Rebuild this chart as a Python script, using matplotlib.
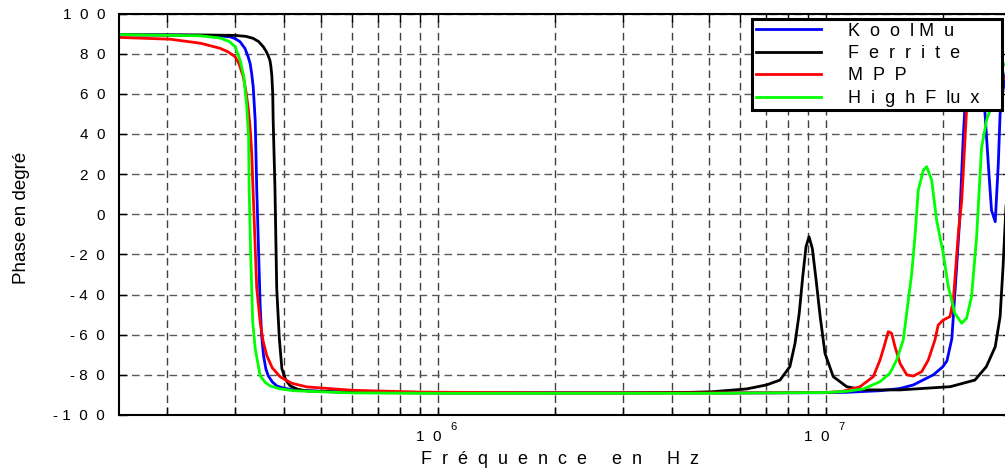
import matplotlib
matplotlib.use("Agg")
import matplotlib.pyplot as plt
from matplotlib.ticker import FixedLocator, LogLocator, NullFormatter
from matplotlib.transforms import ScaledTranslation

plt.rcParams["font.family"] = ["Liberation Sans", "DejaVu Sans"]

# phase (degres), frequence en Hz
f_kool = [1.5e5, 2.0e5, 2.5e5, 2.75e5, 2.91e5, 3.0e5, 3.09e5, 3.18e5, 3.24e5, 3.28e5,
          3.31e5, 3.34e5, 3.38e5, 3.41e5, 3.45e5, 3.48e5, 3.51e5, 3.55e5, 3.60e5, 3.65e5,
          3.74e5, 3.84e5, 4.0e5, 4.23e5, 5.0e5, 6.0e5, 1.0e6, 3.0e6, 6.0e6, 1.0e7,
          1.13e7, 1.38e7, 1.55e7, 1.68e7, 1.89e7, 2.0e7, 2.05e7, 2.11e7, 2.17e7, 2.21e7,
          2.26e7, 2.30e7, 2.37e7, 2.42e7, 2.52e7, 2.57e7, 2.62e7, 2.67e7, 2.73e7, 2.78e7,
          2.81e7, 2.86e7, 2.92e7]
ph_kool = [89.4, 89.3, 89.1, 88.8, 88.4, 87.5, 85.9, 82.6, 78.5, 75.0,
           70.0, 63.3, 46.6, 13.0, -20.0, -45.0, -60.0, -70.3, -77.0, -80.4,
           -83.5, -85.5, -86.6, -87.5, -88.2, -88.6, -89.0, -89.0, -89.0, -88.9,
           -88.7, -87.9, -86.8, -85.0, -80.0, -76.0, -73.0, -62.0, -27.0, -3.0,
           40.0, 65.0, 80.0, 82.0, 70.0, 50.0, 25.0, 2.0, -3.7, 25.0,
           50.0, 62.0, 72.0]

f_fer = [1.5e5, 2.5e5, 3.0e5, 3.2e5, 3.34e5, 3.45e5, 3.55e5, 3.61e5, 3.65e5, 3.69e5,
         3.71e5, 3.73e5, 3.75e5, 3.76e5, 3.80e5, 3.84e5, 3.90e5, 3.96e5, 4.05e5, 4.16e5,
         4.35e5, 4.59e5, 6.0e5, 1.0e6, 3.0e6, 4.5e6, 5.1e6, 6.25e6, 7.03e6, 7.61e6,
         8.07e6, 8.32e6, 8.53e6, 8.71e6, 8.88e6, 9.04e6, 9.22e6, 9.43e6, 9.66e6, 9.94e6,
         1.044e7, 1.131e7, 1.25e7, 1.55e7, 2.09e7, 2.42e7, 2.59e7, 2.73e7, 2.81e7, 2.86e7,
         2.92e7]
ph_fer = [89.4, 89.3, 89.1, 88.6, 87.6, 86.0, 83.3, 81.0, 79.0, 76.5,
          73.5, 69.0, 60.0, 46.6, 13.0, -37.0, -62.0, -77.0, -82.5, -85.5,
          -87.2, -88.0, -88.8, -89.0, -89.0, -88.7, -88.4, -87.0, -85.0, -82.6,
          -75.9, -64.3, -49.4, -31.1, -16.2, -11.2, -17.0, -32.8, -51.0, -69.3,
          -80.9, -85.9, -87.5, -87.5, -85.9, -82.6, -75.9, -66.0, -51.0, -26.0,
          10.0]

f_mpp = [1.5e5, 2.04e5, 2.44e5, 2.74e5, 2.87e5, 3.0e5, 3.07e5, 3.15e5, 3.2e5, 3.24e5,
         3.28e5, 3.31e5, 3.36e5, 3.41e5, 3.48e5, 3.54e5, 3.62e5, 3.74e5, 3.92e5, 4.2e5,
         4.59e5, 6.04e5, 9.0e5, 2.0e6, 6.0e6, 1.0e7, 1.1e7, 1.224e7, 1.324e7, 1.378e7,
         1.411e7, 1.447e7, 1.476e7, 1.506e7, 1.552e7, 1.615e7, 1.679e7, 1.765e7, 1.835e7, 1.909e7,
         1.946e7, 2.005e7, 2.087e7, 2.129e7, 2.193e7, 2.238e7, 2.303e7, 2.37e7, 2.52e7, 2.67e7,
         2.86e7, 2.95e7]
ph_mpp = [88.1, 87.2, 85.2, 82.7, 81.0, 78.5, 75.0, 68.4, 61.0, 53.4,
          43.0, 30.5, -3.4, -36.7, -53.6, -63.0, -70.4, -76.5, -81.0, -84.2,
          -86.0, -87.7, -88.6, -89.0, -89.0, -88.8, -88.3, -85.9, -80.9, -72.6,
          -66.0, -58.5, -59.3, -66.0, -74.3, -80.0, -80.6, -78.4, -72.6, -62.6,
          -55.2, -52.7, -51.0, -42.7, -9.5, 7.0, 52.0, 75.0, 85.0, 78.0,
          68.0, 67.0]

f_hf = [1.5e5, 2.44e5, 2.74e5, 2.9e5, 3.0e5, 3.09e5, 3.16e5, 3.21e5, 3.25e5, 3.26e5,
        3.29e5, 3.33e5, 3.38e5, 3.48e5, 3.58e5, 3.69e5, 3.9e5, 4.24e5, 6.0e5, 1.0e6,
        5.0e6, 1.0e7, 1.131e7, 1.248e7, 1.378e7, 1.461e7, 1.521e7, 1.582e7, 1.630e7, 1.662e7,
        1.695e7, 1.729e7, 1.782e7, 1.818e7, 1.872e7, 1.928e7, 2.005e7, 2.066e7, 2.149e7, 2.238e7,
        2.303e7, 2.372e7, 2.443e7, 2.517e7, 2.594e7, 2.672e7, 2.78e7, 2.86e7, 2.95e7]
ph_hf = [89.5, 88.9, 87.8, 86.0, 83.4, 76.7, 68.4, 55.0, 38.3, 13.2,
         -20.3, -53.7, -67.0, -80.4, -83.6, -85.5, -86.9, -87.9, -89.0, -89.2,
         -89.2, -88.8, -88.2, -87.0, -83.4, -79.2, -72.6, -62.6, -42.7, -30.0,
         -11.2, 12.0, 22.0, 23.7, 17.0, -2.9, -19.5, -36.0, -49.4, -54.3,
         -51.8, -41.0, -12.0, 33.0, 47.0, 54.0, 65.0, 74.0, 76.0]

labels = ["K  o  o  l M  u", "F  e  r  r  i  t  e", "M  P  P", "H  i  g  h  F  lu  x"]
colors = ["#0000ff", "#000000", "#ff0000", "#00ff00"]

x_ticks = [1e6, 1e7]
x_ticklabels = ["1  0", "1  0"]
x_exponents = ["6", "7"]
y_ticks = [-100, -80, -60, -40, -20, 0, 20, 40, 60, 80, 100]
y_ticklabels = ["- 1  0  0", "- 8  0", "- 6  0", "- 4  0", "- 2  0", "0",
                "2  0", "4  0", "6  0", "8  0", "1  0  0"]

fig = plt.figure(figsize=(10.05, 4.72), dpi=100)
ax = fig.add_axes([119 / 1005, 57 / 472, 891 / 1005, 401.5 / 472])

series = [(f_kool, ph_kool), (f_fer, ph_fer), (f_mpp, ph_mpp), (f_hf, ph_hf)]
for (f, ph), lab, c in zip(series, labels, colors):
    ax.plot(f, ph, color=c, lw=2.0, label=lab)

ax.set_xscale("log")
ax.set_xlim(1.506e5, 2.98e7)
ax.set_ylim(-100, 100)
ax.xaxis.set_major_locator(FixedLocator(x_ticks))
ax.set_xticklabels(x_ticklabels)
ax.xaxis.set_minor_locator(LogLocator(base=10, subs=[2, 3, 4, 5, 6, 7, 8, 9]))
ax.xaxis.set_minor_formatter(NullFormatter())
ax.set_yticks(y_ticks)
ax.set_yticklabels(y_ticklabels)

ax.grid(True, which="both", axis="x", color="0.25", lw=1, ls=(0, (5.5, 3.5)))
ax.grid(True, which="major", axis="y", color="0.35", lw=1, ls=(0, (5.5, 3.5)))
ax.tick_params(which="both", direction="in", length=5.8, width=1, top=True, right=True,
               labelsize=11)
ax.tick_params(axis="y", pad=10)
ax.tick_params(axis="x", pad=10.5)
for s in ax.spines.values():
    s.set_linewidth(1.5)

# "1 0" decale a gauche, exposant ecrit a part
shift = ScaledTranslation(-9 / 100, 0, fig.dpi_scale_trans)
for lab in ax.get_xticklabels():
    lab.set_transform(lab.get_transform() + shift)
for xt, ex in zip(x_ticks, x_exponents):
    ax.annotate(ex, xy=(xt, 0), xycoords=("data", "axes fraction"),
                xytext=(11.2, -8.3), textcoords="offset points",
                ha="center", va="center", fontsize=8)

ax.set_xlabel("F  r  é  q  u  e  n  c  e     e  n     H  z", fontsize=13)
ax.xaxis.set_label_coords(0.495, -0.09)
ax.set_ylabel("Phase en degré", fontsize=13.5)
ax.yaxis.set_label_coords(-0.1, 0.49)

leg = ax.legend(loc="upper left", bbox_to_anchor=(752 / 1005, 1 - 108 / 472, 250 / 1005, 89 / 472),
                bbox_transform=fig.transFigure, mode="expand", fontsize=13, fancybox=False,
                framealpha=1, edgecolor="black", borderpad=0.2, labelspacing=0.3,
                handlelength=3.6, handletextpad=1.5, borderaxespad=0)
leg.get_frame().set_linewidth(2.2)

fig.savefig("out.png", dpi=100)
